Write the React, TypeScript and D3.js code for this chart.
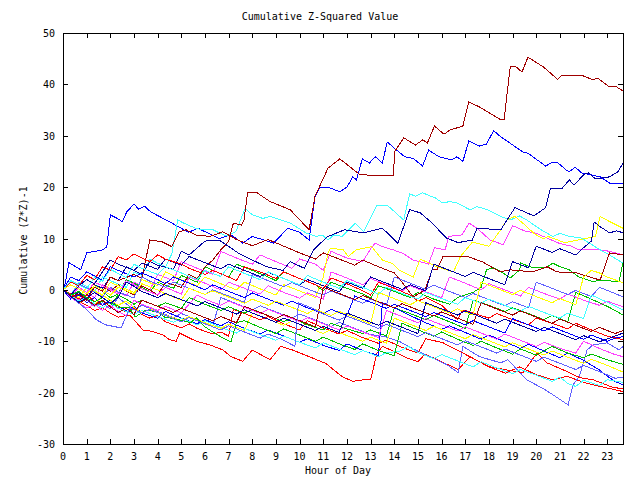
import React from "react";
import * as d3 from "d3";

const title = "Cumulative Z-Squared Value";
const xLabel = "Hour of Day";
const yLabel = "Cumulative (Z*Z)-1";
const xTicks = d3.range(0, 24);
const yTicks = [-30, -20, -10, 0, 10, 20, 30, 40, 50];

// [hour, value]
const red1 = [[0,0],[0.33,-1.5],[0.67,-2.2],[1,-3],[1.33,-4],[1.67,-3.5],[2,-4.5],[2.33,-5.3],[2.67,-5],[2.82,-4.9],[3.38,-7.8],[3.8,-8.1],[4.23,-8.8],[4.5,-9.7],[4.78,-10],[4.93,-8.4],[5.36,-9.4],[5.63,-10],[6.2,-10.7],[6.76,-11.7],[7.1,-13],[7.6,-13.9],[8,-11.7],[8.75,-13.6],[9.2,-11],[9.7,-11.7],[10.4,-13],[11.1,-14.3],[11.8,-16.9],[12.25,-17.8],[12.7,-17.5],[13,-17.5],[13.27,-12.3],[13.5,-11],[14,-12],[14.5,-13.2],[15,-14],[15.3,-12.5],[16,-14],[16.7,-15.5],[17.2,-13],[18,-15],[18.7,-16.2],[19.3,-15],[20,-16.5],[20.7,-17.5],[21.3,-16.8],[22,-18],[22.7,-18.8],[23.2,-19.3],[23.67,-19.8]];
const green1 = [[0,0],[0.33,-1],[0.67,-0.4],[1,-1.8],[1.33,0.5],[1.67,-0.3],[2,-1.5],[2.33,-0.8],[2.67,2],[3,1.3],[3.33,0.5],[3.67,-0.3],[4,1.5],[4.67,0.3],[5,2.8],[5.67,1.5],[6,4.5],[6.33,3.8],[7,2.5],[7.33,5],[8,3.8],[8.67,2.5],[9,1.8],[9.33,3.5],[10,2.2],[10.67,1],[11,-0.2],[11.33,1.5],[12,0.3],[12.67,-0.8],[13,-1.6],[13.33,0.8],[14,-0.3],[14.67,-1.5],[15,-0.5],[15.67,-1.8],[16.33,-2.8],[16.67,-1.5],[17.33,-0.5],[17.67,0.5],[17.9,3.9],[18.2,4.3],[18.6,3.3],[18.9,2.3],[19.3,3.9],[19.35,5.2],[19.85,4.3],[20.4,4.3],[20.7,5.2],[21,4.5],[21.4,3.9],[21.8,2.5],[22.4,1.6],[22.7,1.9],[23.5,1.6],[23.67,5.4]];
const blue1 = [[0,0],[0.1,1.4],[0.25,5.3],[0.75,3.9],[1,7.2],[1.7,7.8],[1.85,8.4],[2,14.6],[2.3,13.9],[2.5,13.3],[2.7,15.2],[3,16.7],[3.2,15.7],[3.45,16.3],[3.7,15.2],[4.6,13],[5.3,11.2],[5.7,12],[6.6,10],[7.1,10.7],[7.6,9.1],[8,10.4],[8.5,9.7],[8.9,9.1],[9.5,12],[10,11.2],[10.4,9.7],[10.65,18.1],[10.85,20],[11.2,20],[11.7,19.1],[12,20],[12.25,22],[12.4,21.4],[12.65,25.5],[12.95,24.7],[13.2,25.9],[13.5,24.7],[13.7,28.8],[14.1,27.2],[14.45,25.9],[14.8,25.6],[15.2,24.1],[15.45,27.2],[15.9,25.9],[16.4,25.3],[16.65,25.9],[16.9,25],[17.15,29],[17.6,28],[17.9,28.4],[18.2,31],[18.5,29.8],[19.45,26.8],[19.65,26.6],[20.4,24.1],[20.7,24.9],[20.9,24.8],[21.3,23.2],[21.4,23],[21.65,23.9],[21.9,22.8],[22.7,22],[23.1,20.8],[23.67,20.8]];
const magenta1 = [[0,0],[0.33,-1.2],[0.67,0.5],[1,-0.5],[1.33,-1.5],[1.67,1],[2,0.2],[2.67,-1.2],[3,1.5],[3.67,0],[4,3],[4.67,1.8],[5,5.5],[5.67,4.2],[6.33,3],[6.67,7.5],[7.33,6.2],[8,5],[8.33,6.8],[9,5.5],[9.67,4.2],[10,6],[10.67,5],[11,3.8],[11.33,7.5],[12,6.2],[12.67,5.5],[13,8],[13.19,9.1],[13.52,8.4],[13.95,7.8],[14.37,7.1],[14.79,5.8],[15.09,5.5],[15.45,5],[15.7,8.2],[16.15,7.8],[16.3,10.4],[16.86,10.7],[17.16,13],[17.5,12],[18.05,9.7],[18.6,8.8],[19,12.5],[19.5,11.5],[20,11],[20.5,10],[21,9],[21.5,8.5],[21.8,7.8],[22.7,7.8],[23.1,7.5],[23.67,6.8]];
const cyan1 = [[0,0],[0.33,-1],[0.67,1.5],[1,0.7],[1.33,-0.3],[1.67,2.5],[2,1.8],[2.67,0.5],[3,3.5],[3.33,2.8],[3.67,6],[4,5.2],[4.33,4.5],[4.6,7],[4.85,13.6],[5.1,13],[5.6,12],[5.9,11.7],[6.3,11.8],[6.6,11.1],[6.9,10.5],[7.3,11.3],[7.7,15.9],[8,14.6],[8.45,13.9],[8.75,14.3],[9.6,13],[10.3,11],[10.7,10.4],[10.95,10.7],[11.2,9.7],[11.45,10.7],[11.8,10.4],[12.2,12.3],[12.35,13],[12.7,11.3],[13.27,16.5],[13.7,16.5],[14.4,13.6],[14.65,18.7],[14.9,18.2],[15.2,18.9],[15.5,18.3],[15.7,18],[16.05,16.9],[16.35,17.2],[16.65,16.9],[17.2,15.6],[17.5,16.2],[17.95,15.6],[18.5,14.3],[18.9,13.6],[19.3,14.4],[19.6,13.6],[20.2,11.7],[20.7,10.4],[21,11],[21.4,10.4],[21.9,10.1],[22.7,7.8],[23.1,6.8],[23.67,5.2]];
const darkRed1 = [[0,0],[0.33,-1],[0.67,-2.2],[1,-1],[1.33,1.5],[1.67,0.8],[2,-0.3],[2.33,1],[2.67,-0.2],[3,-1],[3.33,0.8],[3.67,0],[4,-1],[4.33,1.5],[5,0.5],[5.33,3],[5.67,2.2],[6,4.5],[6.33,5.8],[6.67,7.8],[7,9.4],[7.2,13],[7.55,12.6],[7.65,13.6],[7.8,18.9],[8.2,18.9],[8.75,17.2],[9.6,15.6],[10.4,11.7],[10.65,18.2],[11.2,23.7],[11.7,25.5],[12.55,22.4],[13.95,22.2],[14.03,27],[14.4,29.6],[14.9,28.2],[15.2,29.2],[15.4,28.6],[15.7,31.9],[16.1,30.3],[16.35,31.1],[16.9,31.9],[17.15,36.6],[17.6,35.6],[18.5,33.1],[18.64,33.1],[18.9,43.4],[19.15,43.4],[19.4,42.4],[19.65,45.3],[20.3,43.4],[20.9,41],[21.1,41.8],[21.9,41.8],[22.4,40.9],[22.6,41.2],[23.1,39.5],[23.4,39.5],[23.67,38.7]];
const yellow1 = [[0,0],[0.33,-0.8],[0.67,-1.5],[1,0.5],[1.33,-0.2],[1.67,-1],[2,1.5],[2.33,0.8],[3,-0.5],[3.33,2],[4,0.8],[4.33,3.5],[5,2],[5.67,0.8],[6,2.5],[6.67,1.2],[7.33,0],[7.67,1.5],[8.33,0.2],[9,-1],[9.33,1],[10,-0.2],[10.67,-1.5],[11,2.5],[11.2,7.1],[11.3,8.1],[11.85,7.8],[12.05,6.5],[12.4,7.8],[13.05,8.4],[13.5,5.8],[13.9,5.2],[14.2,3.9],[14.8,2.5],[15.1,6],[15.8,4.5],[16.5,3.5],[16.8,6.5],[17.3,9.3],[18,8.5],[18.5,11.7],[18.75,13.6],[19.1,14.3],[19.6,12.3],[19.9,11],[20.3,9.9],[20.5,10.4],[21.2,9.2],[22.2,10.1],[22.5,10.4],[22.7,14.3],[23.1,13.3],[23.67,12]];
const lightBlue1 = [[0,0],[0.33,-1.5],[0.67,-0.8],[1,-2],[1.33,-3.2],[1.67,-2.5],[2,-3.7],[2.33,-1.5],[2.67,-2.7],[3,-3.9],[3.33,-3],[4,-4.2],[4.67,-5.4],[5,-4.6],[5.67,-5.8],[6.33,-7],[6.67,-1.5],[7.33,-2.7],[8,-3.9],[8.33,-3.1],[9,-4.3],[9.67,-5.5],[10,-4.7],[10.67,-5.9],[11.33,-7.1],[11.67,-6.3],[12.33,-7.5],[13,-8.7],[13.6,-9.1],[14.2,-10],[14.8,-11.5],[15.5,-13],[16.2,-14.5],[16.7,-16.1],[16.9,-11],[17.6,-13],[18.5,-14.2],[18.8,-13.6],[19.6,-17.5],[20.4,-19.5],[21.35,-22.4],[21.55,-18.5],[21.8,-17],[21.9,-15.6],[22.15,-11.7],[22.4,-10.7],[23,-10.3],[23.5,-11.7],[23.67,-11]];
const darkBlue1 = [[0,0],[0.33,-1.5],[0.67,-0.5],[1,-2],[1.33,1],[1.67,0.3],[2,2.5],[2.33,1.8],[2.67,4.5],[3,3.8],[3.33,3],[3.67,5.5],[4,4.8],[4.67,4],[5,7.5],[5.33,6.8],[6,9.5],[6.6,9.7],[7.4,7.2],[8,5.8],[8.6,4.5],[9.3,3.8],[9.6,5.5],[10.2,4.2],[10.6,7.8],[11.15,10.3],[11.9,11.7],[12.7,11.1],[13.5,12],[14.15,9.1],[14.65,15.6],[15.1,15],[15.6,13],[16.2,10.1],[16.7,9.2],[17.3,9.7],[17.5,12],[18.5,11.7],[19.1,16],[19.9,14.4],[20.4,16],[20.6,19.8],[21.1,19.8],[21.4,21.4],[21.6,20.4],[22,22.4],[22.2,22.8],[22.5,21.6],[23.1,22],[23.45,23],[23.67,24.7]];

const red2 = [[0,0],[0.33,-0.8],[0.67,-1.8],[1,-1],[1.33,-2.2],[1.67,-3],[2,-2.4],[2.33,-3.5],[2.67,-4.3],[3,-3.6],[3.33,-4.8],[3.67,-5.5],[4,-5],[4.33,-6.2],[5,-7.4],[5.33,-6.6],[5.67,-7.5],[6.33,-8.6],[6.67,-8.2],[7,-9],[7.2,-3.8],[7.67,-4.6],[8.33,-5.8],[8.67,-5.2],[9.33,-6.6],[10,-7.8],[10.33,-6],[11,-7.4],[11.67,-8.6],[12,-7.9],[12.67,-9.3],[13.33,-10.4],[13.67,-9.8],[14.33,-11.2],[15,-12.3],[15.33,-9.5],[16.06,-10.3],[16.9,-12.3],[17.6,-14],[18.05,-15],[18.3,-15.2],[18.77,-15.6],[19.44,-16.1],[20.03,-12.3],[20.45,-14.2],[21.3,-15.9],[21.85,-17.1],[22.4,-17.5],[23.2,-18.9],[23.67,-19.3]];
const green2 = [[0,0],[0.33,-1.5],[0.67,-2.5],[1,-1.8],[1.33,-3],[1.67,-2.2],[2,-3.2],[2.33,-1],[2.67,-1.8],[3,-2.8],[3.33,-2],[4,-3.2],[4.33,-2.5],[5,-3.6],[5.33,-1.5],[6,-2.8],[6.67,-4],[7,-3.3],[7.67,-4.5],[8,-3.8],[8.67,-5],[9.33,-6.2],[9.67,-5.5],[10.33,-6.8],[11,-7.8],[11.33,-6.5],[12,-7.6],[12.67,-8.5],[13,-7.8],[13.67,-9],[14,-3.5],[14.67,-4.6],[15.33,-5.8],[15.67,-5],[16.33,-6.2],[17,-7.5],[17.33,-2],[18,-3],[18.67,-4.2],[19,-3.5],[19.67,-4.6],[20.33,-5.8],[20.67,-5],[21.33,-6.2],[21.67,-0.5],[22.33,-1.8],[23,-3.2],[23.33,-4],[23.67,-4.9]];
const blue2 = [[0,0],[0.33,-1.8],[0.67,-1],[1,-2.5],[1.33,-1.5],[1.67,-3],[2,-2],[2.33,-3.2],[2.67,-4],[3,-3.2],[3.33,-4.5],[4,-5.5],[4.33,-4.2],[5,-5.5],[5.67,-6.6],[6,-5.8],[6.67,-7],[7,-6.2],[7.67,-7.5],[8.33,-8.6],[8.67,-7.8],[9.33,-9],[10,-10.2],[10.33,-9.5],[11,-10.8],[11.67,-11.8],[12,-10.5],[12.67,-11.8],[13.33,-12.8],[13.5,-2.5],[14,-3.5],[14.67,-5],[15.33,-6.4],[16,-7.7],[16.33,-7],[17,-8.3],[17.67,-9.6],[18,-8.8],[18.67,-10.1],[19.33,-11.4],[19.67,-10.6],[20.33,-11.9],[21,-13.2],[21.33,-12.3],[22,-13.7],[22.67,-15.6],[23,-16.8],[23.33,-17.8],[23.67,-18.5]];
const magenta2 = [[0,0],[0.33,-1.2],[0.67,-2],[1,-0.5],[1.33,1.5],[1.67,0.8],[2,0],[2.33,-0.8],[2.67,1.8],[3,1],[3.33,0.2],[4,-1],[4.33,0.5],[5,-0.8],[5.33,2.5],[6,1.3],[6.67,0],[7,1.5],[7.67,0.3],[8.33,-0.8],[8.67,0.8],[9.33,-0.5],[10,-1.6],[10.33,-0.6],[11,-1.8],[11.33,3.5],[12,2.3],[12.67,1],[13,2.2],[13.67,1],[14.33,-0.2],[14.67,0.8],[15.33,-0.4],[16,-1.5],[16.33,2.5],[17,1.3],[17.67,0],[18,1.2],[18.67,0],[19.33,-1.2],[19.67,0.5],[20.33,-0.7],[21,-1.8],[21.33,-0.8],[22,-2],[22.67,-3],[23,-2.2],[23.67,-3.3]];
const cyan2 = [[0,0],[0.33,-1],[0.67,-2.2],[1,-1.5],[1.33,-2.7],[1.67,-3.5],[2,-2.5],[2.33,-3.6],[3,-4.8],[3.33,-4],[4,-5.2],[4.67,-6.3],[5,-5.5],[5.67,-6.8],[6,-6],[6.67,-7.3],[7.33,-8.4],[7.67,-7.5],[8.33,-8.7],[9,-9.8],[9.33,-9],[10,-10.2],[10.67,-11.3],[11,-10.3],[11.67,-11.5],[12.33,-12.6],[12.67,-11.8],[13.33,-13],[13.67,-12.2],[14.2,-12],[14.6,-11],[15,-12.2],[15.67,-13.4],[16,-12.6],[16.67,-13.8],[17.33,-15],[17.67,-14],[18.33,-15.2],[19,-16.3],[19.33,-15.5],[20,-16.6],[20.67,-17.8],[21,-17],[21.33,-18.2],[21.67,-18.8],[22,-17.6],[22.67,-18.6],[23,-17.5],[23.67,-18]];
const darkRed2 = [[0,0],[0.33,-1.5],[0.67,-0.8],[1,-2],[1.33,0.5],[1.67,-0.3],[2,2.5],[2.33,1.8],[3,3],[3.33,2.2],[3.67,9.7],[4.17,9.4],[4.6,8.4],[4.9,11.3],[5.2,11.7],[5.6,10.7],[6.2,10.4],[6.76,11.3],[7.33,9.8],[8,8.6],[8.67,9.8],[9.33,8.5],[10,7.2],[10.67,6],[11,7.2],[11.67,6],[12.33,4.8],[12.67,5.8],[13.33,4.5],[14,3.3],[14.33,1.5],[14.8,-1.4],[15.3,0],[15.6,3.9],[15.8,3.9],[16.06,6.5],[17.1,6.5],[17.75,5.4],[18.47,3.5],[18.9,3.9],[19.86,3.5],[20.46,4.5],[20.88,3.5],[21.7,3.3],[22.27,2.5],[22.7,1.9],[23.1,7.2],[23.67,6.8]];
const yellow2 = [[0,0],[0.33,-1.5],[0.67,-2.5],[1,-1.8],[1.33,-3],[1.67,-1],[2,-2],[2.33,-3],[2.67,-2.2],[3,-3.4],[3.33,-4.5],[3.67,-3.7],[4.33,-4.9],[5,-6],[5.33,-5.2],[6,-6.4],[6.67,-7.5],[7,-6.7],[7.67,-7.9],[8,-4.5],[8.67,-5.7],[9.33,-6.9],[9.67,-6.1],[10.33,-7.3],[11,-8.5],[11.33,-7.7],[12,-8.9],[12.67,-10],[13,-9.2],[13.67,-10.4],[14,-5.5],[14.67,-6.7],[15.33,-7.9],[15.67,-7.1],[16.33,-8.3],[17,-9.5],[17.33,-8.7],[18,-9.9],[18.67,-11.1],[19,-10.3],[19.67,-11.5],[20.33,-12.7],[20.67,-11.9],[21.33,-13.1],[22,-14.3],[22.33,-13.5],[23,-14.7],[23.67,-16]];
const lightBlue2 = [[0,0],[0.33,-1],[0.67,1.2],[1,0.4],[1.33,-0.5],[1.67,-1.4],[2,0.5],[2.33,-0.4],[3,-1.6],[3.33,2.5],[3.67,1.7],[4.33,0.5],[4.67,1.5],[5.33,0.3],[6,-0.9],[6.33,0],[7,-1.2],[7.67,-2.4],[8,3],[8.67,1.8],[9.33,0.6],[9.67,1.4],[10.33,0.2],[11,-1],[11.33,-0.2],[12,-1.4],[12.67,-2.6],[13,-1.8],[13.67,-3],[14,2.5],[14.67,1.3],[15.33,0.1],[15.67,0.9],[16.33,-0.3],[17,-1.5],[17.33,-0.7],[18,-1.9],[18.67,-3.1],[19,-2.3],[19.67,-3.5],[20,1.5],[20.67,0.3],[21.33,-0.9],[21.67,-0.1],[22.33,-1.3],[22.67,0.5],[23.33,-0.7],[23.67,-1.4]];
const darkBlue2 = [[0,0],[0.33,-1],[0.67,0.8],[1,2],[1.33,1.2],[1.67,3.5],[2,5.8],[2.33,5],[3,3.8],[3.33,5.2],[4,4],[4.33,6],[5,4.8],[5.33,6.5],[6,5.3],[6.67,4.1],[7,5],[7.67,3.8],[8.33,2.6],[8.67,3.4],[9.33,2.2],[10,1],[10.33,2],[11,0.8],[11.67,-0.4],[12,1.5],[12.67,0.3],[13,2.5],[13.67,1.3],[14.33,0.1],[14.67,1],[15.33,-0.2],[15.67,5],[16.33,3.8],[17,2.6],[17.33,3.4],[18,2.2],[18.67,1],[19,5.5],[19.67,4.3],[20,8.5],[20.67,7.3],[21,8],[21.67,6.8],[22,8.2],[22.33,9.5],[22.45,13.2],[22.7,12.3],[23.1,11.1],[23.4,11.5],[23.67,11.1]];

const red3 = [[0,0],[0.33,1.5],[0.67,0.8],[1,2.8],[1.33,2],[1.67,4.5],[2,3.8],[2.33,6.5],[2.67,5.8],[3,7],[3.33,6.2],[3.67,5.5],[4,6.8],[4.33,6],[5,5],[5.33,4.2],[6,3],[6.33,3.8],[7,2.5],[7.33,1.8],[7.67,4.5],[8.33,3.5],[9,2.2],[9.33,3.5],[10,2.2],[10.67,1],[11,0.2],[11.33,2.3],[12,1.2],[12.67,-0.2],[13,-1],[13.33,1.5],[14,0.3],[14.67,-1],[15,-2.2],[15.33,-1.5],[16,-3],[16.67,-5.8],[16.9,-3.9],[17.33,-4.5],[18,-5.5],[18.33,-4.6],[19,-5.8],[19.67,-6.8],[20,-5.5],[20.67,-6.5],[21.33,-7.6],[21.67,-6.5],[22.33,-7.8],[23,-9],[23.67,-9.7]];
const green3 = [[0,0],[0.33,-1],[0.67,-0.3],[1,-1.5],[1.33,-2.3],[1.67,-1.5],[2,-2.5],[2.5,-3.5],[2.8,-3.5],[3.05,-5.3],[3.5,-3.9],[4,-4.3],[4.3,-5.3],[4.9,-5.8],[5.4,-6.4],[5.63,-5.4],[6,-7.2],[6.4,-8.4],[6.76,-9.4],[7.1,-10.1],[7.33,-6.4],[7.67,-6],[8.33,-7.3],[9,-8.5],[9.33,-7.6],[10,-8.8],[10.67,-10],[11,-9.2],[11.67,-10.5],[12.33,-11.6],[12.67,-10.5],[13.33,-11.8],[14,-12.8],[14.33,-6.5],[15,-7.8],[15.67,-9],[16,-8.2],[16.67,-9.6],[17.33,-10.8],[17.67,-10],[18.33,-11.3],[19,-12.5],[19.33,-11.5],[20,-12.7],[20.67,-11],[21.33,-12.3],[22,-13.2],[22.33,-12.5],[23,-13.6],[23.67,-14.5]];
const blue3 = [[0,0],[0.33,2.5],[0.67,1.8],[1,3.5],[1.33,2.7],[1.67,1.8],[2,4.5],[2.33,3.8],[3,2.5],[3.33,3.3],[4,2],[4.33,1.2],[4.67,2.5],[5.33,1.3],[6,0],[6.33,1],[7,-0.3],[7.67,-1.5],[8,-0.6],[8.67,-1.8],[9.33,-3],[9.67,-2.2],[10.33,-3.5],[11,-4.6],[11.33,-3.8],[12,-5],[12.33,-1.2],[13,-2.4],[13.67,-3.6],[14,-2.8],[14.67,-4],[15.33,-5.2],[15.67,-4.4],[16.33,-5.6],[17,-6.8],[17.33,-6],[18,-7.2],[18.67,-8.4],[19,-5.6],[19.67,-6.8],[20.33,-8],[20.67,-7.2],[21.33,-8.4],[22,-9.6],[22.33,-8.8],[23,-10],[23.33,-9.4],[23.67,-9.1]];
const magenta3 = [[0,0],[0.33,-1.5],[0.67,-2.5],[1,-3.5],[1.33,-2.8],[1.67,-4],[2,-3],[2.33,-4.2],[2.67,-5],[3,-2],[3.33,-2.8],[4,-4],[4.33,-3.2],[5,-4.5],[5.67,-1],[6,-1.8],[6.67,-3],[7,-2.2],[7.67,-3.4],[8.33,-4.6],[8.67,-3.8],[9.33,-5],[10,-6.2],[10.33,-5.4],[11,-6.6],[11.67,-7.8],[12,-7],[12.67,-8.2],[13.33,-9.3],[13.67,-4],[14.33,-5.2],[15,-6.4],[15.33,-5.6],[16,-6.8],[16.67,-8],[17,-7.2],[17.67,-8.4],[18.33,-9.6],[18.67,-8.6],[19.33,-9.8],[20,-11],[20.33,-10.2],[21,-11.4],[21.67,-12.3],[22,-10],[22.67,-11.4],[23.33,-12.6],[23.67,-13]];
const cyan3 = [[0,0],[0.33,1.8],[0.67,1],[1,0.2],[1.33,2.5],[1.67,1.7],[2,4],[2.33,3.2],[2.67,2.4],[3,5],[3.33,4.2],[4,3],[4.33,4.5],[5,3.3],[5.67,2],[6,3.8],[6.67,2.6],[7,4.5],[7.67,3.2],[8.33,2],[8.67,3.5],[9.33,2.2],[10,1],[10.33,2.8],[11,1.5],[11.67,0.3],[12,1.8],[12.67,0.5],[13.33,-0.8],[13.67,0.5],[14.33,-0.7],[15,-1.8],[15.33,-0.5],[16,-1.7],[16.67,-2.8],[17,-1.5],[17.67,-2.6],[18,-1.8],[18.67,-3],[19.33,-4.2],[19.67,-3.2],[20.33,-4.4],[21,-5.5],[21.33,-4.5],[22,-5.6],[22.33,-1],[23,-2.4],[23.67,-3.9]];
const darkRed3 = [[0,0],[0.33,-1.2],[0.67,-2.5],[1,-1.8],[1.33,-3],[1.67,-2],[2,-3.3],[2.33,-4.4],[2.67,-3.6],[3,-4.8],[3.33,-2],[4,-3.2],[4.67,-4.4],[5,-3.6],[5.67,-4.8],[6.33,-6],[6.67,-5.2],[7.33,-6.4],[7.67,-3.2],[8.33,-4.4],[9,-5.6],[9.33,-4.8],[10,-6],[10.67,-7.2],[11,0.5],[11.67,-0.7],[12.33,-1.9],[12.67,-1.1],[13.33,-2.3],[14,-3.5],[14.33,-2.7],[15,-3.9],[15.67,-5.1],[16,-4.3],[16.67,-5.5],[17.33,-6.7],[17.67,-2.5],[18.33,-3.7],[19,-4.9],[19.33,-4.1],[20,-5.3],[20.67,-6.5],[21,-5.7],[21.67,-6.9],[22.33,-8.1],[22.67,-7.3],[23.33,-8.5],[23.67,-7.9]];
const yellow3 = [[0,0],[0.33,1],[0.67,0.2],[1,-0.8],[1.33,0.8],[1.67,0],[2,-1],[2.33,0.5],[3,-0.8],[3.33,1.2],[4,0],[4.33,-0.8],[5,-2],[5.33,0.3],[6,-0.9],[6.33,-0.2],[7,-1.4],[7.67,-2.6],[8,-1.8],[8.67,-3],[9,-2.2],[9.67,-3.4],[10.33,-4.6],[10.67,-3.8],[11.33,-5],[11.67,-4.2],[12.33,-5.4],[13,-6.6],[13.33,-0.5],[14,-1.7],[14.67,-2.9],[15,-2.1],[15.67,-3.3],[16.33,-4.5],[16.67,-3.7],[17.33,-4.9],[17.67,1.5],[18.33,0.3],[19,-0.9],[19.33,-0.1],[20,-1.3],[20.67,-2.5],[21,-1.7],[21.67,-2.9],[22,2.5],[22.33,3.8],[22.67,3.3],[23,2.5],[23.67,1.4]];
const lightBlue3 = [[0,0],[0.33,-1.3],[0.67,-2.6],[1,-3.8],[1.4,-5.8],[1.8,-6.8],[2.45,-7.4],[2.66,-5.3],[2.83,-3.5],[3.33,-4.5],[3.67,-3.8],[4.33,-5],[5,-6.2],[5.33,-5.4],[6,-6.6],[6.67,-7.8],[7,-7],[7.67,-8.2],[8.33,-9.4],[8.67,-8.6],[9.33,-9.8],[9.8,-11],[9.95,-2.5],[10.5,-3.5],[11,-4.7],[11.67,-5.9],[12,-5.1],[12.67,-6.3],[13.33,-7.5],[13.67,-6.7],[14.33,-7.9],[15,-9.1],[15.33,-8.3],[16,-9.5],[16.67,-10.7],[17,-9.9],[17.67,-11.1],[18.33,-12.3],[18.67,-11.5],[19.33,-12.7],[20,-13.9],[20.33,-13.1],[21,-14.3],[21.67,-15.5],[22,-14.7],[22.67,-15.9],[23.33,-17.2],[23.67,-17]];
const darkBlue3 = [[0,0],[0.33,-1.3],[0.67,-2.4],[1,-1.6],[1.33,-0.5],[1.67,-1.5],[2,-2.6],[2.33,-1.5],[2.67,1.5],[3,0.7],[3.33,-0.3],[4,-1.5],[4.33,-0.7],[5,-1.9],[5.67,-3.1],[6,-2.3],[6.67,-3.5],[7.33,-4.7],[7.67,-3.9],[8.33,-5.1],[9,-6.3],[9.33,-5.5],[10,-6.7],[10.67,-7.9],[11,-7.1],[11.67,-8.3],[12,-4.5],[12.67,-5.7],[13.33,-6.9],[13.67,-6.1],[14.33,-7.3],[15,-8.5],[15.33,-2.5],[16,-3.7],[16.67,-4.9],[17,-4.1],[17.67,-5.3],[18.33,-6.5],[18.67,-5.7],[19.33,-6.9],[20,-8.1],[20.33,-7.3],[21,-8.5],[21.67,-9.7],[22,-8.9],[22.67,-10.1],[23.33,-9],[23.67,-8.4]];

const seriesList = [
  red1, green1, blue1, magenta1, cyan1, darkRed1, yellow1, lightBlue1, darkBlue1,
  red2, green2, blue2, magenta2, cyan2, darkRed2, yellow2, lightBlue2, darkBlue2,
  red3, green3, blue3, magenta3, cyan3, darkRed3, yellow3, lightBlue3, darkBlue3,
];
const palette = ["#ff0000", "#00c000", "#0000ff", "#ff40ff", "#40ffff", "#a00000", "#ffff00", "#6060ff", "#0000a0"];

const W = 640, H = 480;
const L = 63, R = 623, T = 33, B = 444;
const FONT = "'DejaVu Sans Mono', monospace";

export default function App() {
  const x = d3.scaleLinear().domain([0, 71 / 3]).range([L, R]);
  const y = d3.scaleLinear().domain([-30, 50]).range([B, T]);
  const line = d3.line<number[]>().x((d) => x(d[0])).y((d) => y(d[1]));
  const tk = 5;
  return (
    <svg width={W} height={H} style={{ position: "absolute", left: 0, top: 0, background: "#fff" }}>
      <rect x={0} y={0} width={W} height={H} fill="#fff" />
      <g shapeRendering="crispEdges">
        {seriesList.map((s, i) => (
          <path key={i} d={line(s) || ""} fill="none" stroke={palette[i % palette.length]} strokeWidth={1} />
        ))}
      </g>
      <g stroke="#000" strokeWidth={1} shapeRendering="crispEdges">
        <rect x={L + 0.5} y={T + 0.5} width={R - L} height={B - T} fill="none" />
        {xTicks.map((t) => (
          <g key={"xt" + t}>
            <line x1={Math.round(x(t)) + 0.5} x2={Math.round(x(t)) + 0.5} y1={B} y2={B - tk} />
            <line x1={Math.round(x(t)) + 0.5} x2={Math.round(x(t)) + 0.5} y1={T} y2={T + tk} />
          </g>
        ))}
        {yTicks.map((t) => (
          <g key={"yt" + t}>
            <line x1={L} x2={L + tk} y1={Math.round(y(t)) + 0.5} y2={Math.round(y(t)) + 0.5} />
            <line x1={R} x2={R - tk} y1={Math.round(y(t)) + 0.5} y2={Math.round(y(t)) + 0.5} />
          </g>
        ))}
      </g>
      <g fontFamily={FONT} fontSize={10} fill="#000">
        {xTicks.map((t) => (
          <text key={"xl" + t} x={x(t)} y={B + 16} textAnchor="middle">{t}</text>
        ))}
        {yTicks.map((t) => (
          <text key={"yl" + t} x={L - 8} y={y(t) + 4} textAnchor="end">{t}</text>
        ))}
        <text x={320} y={20} textAnchor="middle">{title}</text>
        <text x={338} y={474} textAnchor="middle">{xLabel}</text>
        <text transform={`translate(27,${(T + B) / 2 + 2}) rotate(-90)`} textAnchor="middle">{yLabel}</text>
      </g>
    </svg>
  );
}
